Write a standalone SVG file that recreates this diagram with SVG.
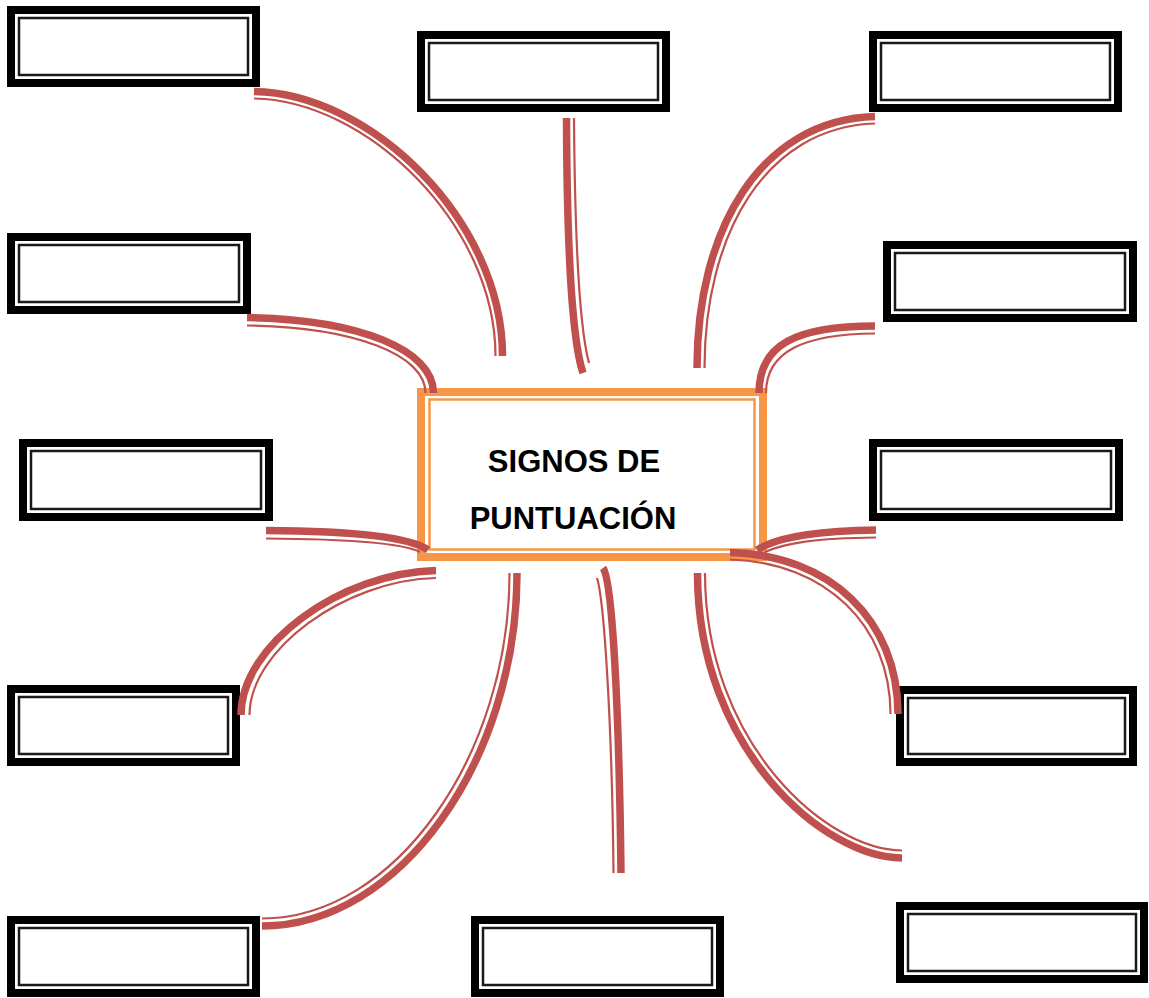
<svg xmlns="http://www.w3.org/2000/svg" width="1149" height="998" viewBox="0 0 1149 998">
<style>
.bo{fill:#fff;stroke:#000;stroke-width:8}
.bi{fill:none;stroke:#1a1a1a;stroke-width:2.5}
.k{fill:none;stroke:#C0504D;stroke-width:7.5}
.t{fill:none;stroke:#C0504D;stroke-width:2.2}
.co{fill:#fff;stroke:#F79646;stroke-width:8}
.ci{fill:none;stroke:#F79646;stroke-width:2.5}
.lbl{font-family:"Liberation Sans",Arial,sans-serif;font-weight:bold;font-size:31px;fill:#000;text-anchor:middle}
</style>
<rect width="1149" height="998" fill="#fff"/>
<g id="boxes">
<g id="b1"><rect class="bo" x="11" y="10" width="245" height="73"/><rect class="bi" x="19" y="18" width="229" height="57"/></g>
<g id="b2"><rect class="bo" x="421" y="35" width="245" height="73"/><rect class="bi" x="429" y="43" width="229" height="57"/></g>
<g id="b3"><rect class="bo" x="873" y="35" width="245" height="73"/><rect class="bi" x="881" y="43" width="229" height="57"/></g>
<g id="b4"><rect class="bo" x="11" y="237" width="236" height="73"/><rect class="bi" x="19" y="245" width="220" height="57"/></g>
<g id="b5"><rect class="bo" x="887" y="245" width="246" height="73"/><rect class="bi" x="895" y="253" width="230" height="57"/></g>
<g id="b6"><rect class="bo" x="23" y="443" width="246" height="74"/><rect class="bi" x="31" y="451" width="230" height="58"/></g>
<g id="b7"><rect class="bo" x="873" y="443" width="246" height="74"/><rect class="bi" x="881" y="451" width="230" height="58"/></g>
<g id="b8"><rect class="bo" x="11" y="689" width="225" height="73"/><rect class="bi" x="19" y="697" width="209" height="57"/></g>
<g id="b9"><rect class="bo" x="900" y="690" width="233" height="72"/><rect class="bi" x="908" y="698" width="217" height="56"/></g>
<g id="b10"><rect class="bo" x="11" y="920" width="245" height="73"/><rect class="bi" x="19" y="928" width="229" height="57"/></g>
<g id="b11"><rect class="bo" x="475" y="920" width="245" height="73"/><rect class="bi" x="483" y="928" width="229" height="57"/></g>
<g id="b12"><rect class="bo" x="900" y="906" width="244" height="73"/><rect class="bi" x="908" y="914" width="228" height="57"/></g>
</g>
<g id="center">
<rect class="co" x="421" y="392" width="342" height="165"/>
<rect class="ci" x="429.5" y="399.5" width="325" height="150"/>
<text class="lbl" x="574" y="472">SIGNOS DE</text>
<text class="lbl" x="573" y="529">PUNTUACIÓN</text>
</g>
<g id="connectors">
<path class="k" d="M254,91.5 C370,93 502.5,220 502.5,356"/>
<path class="t" d="M254,98.5 C366,100 495.5,224 495.5,356"/>
<path class="k" d="M247,317.5 C360,319.5 433.5,350 433.5,393"/>
<path class="t" d="M247,325.5 C355,327 425.5,355 425.5,393"/>
<path class="k" d="M566.5,118 C567,250 572,340 583,373"/>
<path class="t" d="M574,118 C575,250 580,330 589,363"/>
<path class="k" d="M875,116.5 C760,120 697,230 697,368"/>
<path class="t" d="M875,123.5 C765,127 704.5,235 704.5,368"/>
<path class="k" d="M875,326 C795,326 759,345 759,393"/>
<path class="t" d="M875,333.5 C803,334 766,352 766,393"/>
<path class="k" d="M266,530.5 C350,531 410,537 428,550"/>
<path class="t" d="M266,538.5 C350,539 402,543 420,552"/>
<path class="k" d="M876,530 C810,531 775,538 757,550"/>
<path class="t" d="M876,537.5 C815,538 785,543 765,552"/>
<path class="k" d="M436,570.5 C340,573 241,645 241,715"/>
<path class="t" d="M436,578 C345,580 249.5,650 249.5,715"/>
<path class="k" d="M517,573 C517,760 400,926 262,926"/>
<path class="t" d="M509.5,573 C509.5,755 395,918.5 262,918.5"/>
<path class="k" d="M603,568 C612,580 619,700 621,873"/>
<path class="t" d="M597,578 C604,600 612,720 613.5,873"/>
<path class="k" d="M730,552.5 C830,555 898,620 898,714"/>
<path class="t" d="M730,559.5 C825,562 890.5,625 890.5,714"/>
<path class="k" d="M697.5,573 C697.5,750 825,858 902,858"/>
<path class="t" d="M705,573 C705,745 828,850.5 902,850.5"/>
</g>
</svg>
